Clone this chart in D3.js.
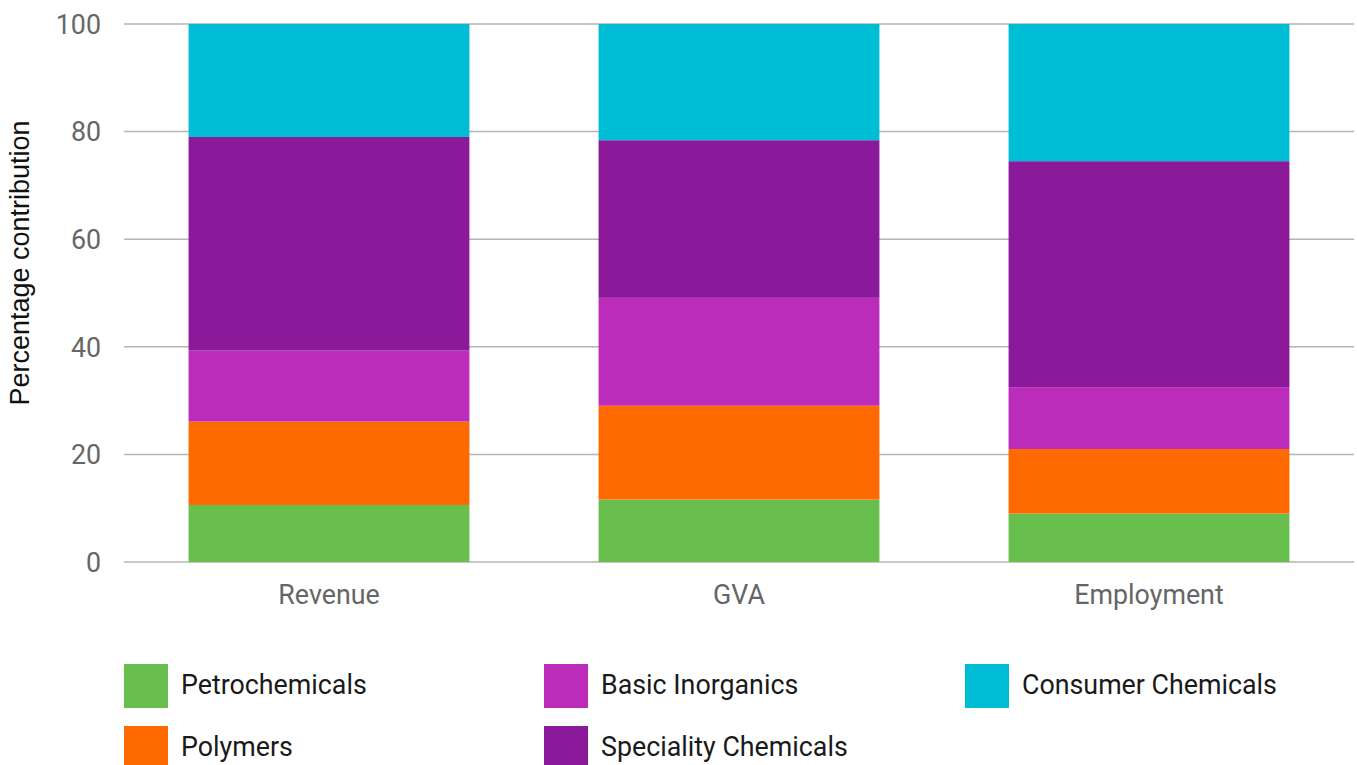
<!DOCTYPE html>
<html>
<head>
<meta charset="utf-8">
<script src="https://cdn.jsdelivr.net/npm/d3@7"></script>
<style>
  html, body { margin: 0; padding: 0; background: #fff; }
  svg { display: block; font-family: Roboto, "Noto Sans", sans-serif; }
</style>
</head>
<body>
<svg id="chart" width="1357" height="765"></svg>
<script>
// Measures shown on the x axis
const categories = ["Revenue", "GVA", "Employment"];

// Sub-sectors, bottom to top of each stack
const sectors = ["Petrochemicals", "Polymers", "Basic Inorganics", "Speciality Chemicals", "Consumer Chemicals"];

// Percentage contribution of each sub-sector, per measure
const petrochemicals      = [10.6, 11.6, 9.0];
const polymers            = [15.5, 17.45, 12.0];
const basicInorganics     = [13.2, 20.05, 11.5];
const specialityChemicals = [39.7, 29.3, 42.0];
const consumerChemicals   = [21.0, 21.6, 25.5];

const yTicks = [0, 20, 40, 60, 80, 100];
const colors = ["#68bf4e", "#ff6a00", "#bc2cbb", "#8a1a9a", "#00bdd6"];

const seriesValues = [petrochemicals, polymers, basicInorganics, specialityChemicals, consumerChemicals];
const rows = categories.map((c, i) => {
  const r = { category: c };
  sectors.forEach((s, j) => { r[s] = seriesValues[j][i]; });
  return r;
});

const svg = d3.select("#chart");
const margin = { left: 124, right: 3, top: 24, bottom: 203 };
const width = 1357, height = 765;

const x = d3.scaleBand()
  .domain(categories)
  .range([margin.left, width - margin.right])
  .paddingInner(0.315)
  .paddingOuter(0.1575);

const y = d3.scaleLinear()
  .domain([0, 100])
  .range([height - margin.bottom, margin.top]);

// Gridlines
svg.append("g")
  .selectAll("line")
  .data(yTicks)
  .join("line")
  .attr("x1", margin.left)
  .attr("x2", width - margin.right)
  .attr("y1", d => y(d))
  .attr("y2", d => y(d))
  .attr("stroke", "#b5b5b5")
  .attr("stroke-width", 1.5);

// Y tick labels
const yAxis = d3.axisLeft(y).tickValues(yTicks).tickSize(0).tickPadding(0);
const gy = svg.append("g")
  .attr("transform", `translate(${margin.left - 23},0)`)
  .call(yAxis);
gy.select(".domain").remove();
gy.selectAll("text")
  .attr("fill", "#666")
  .style("font-family", "Roboto, sans-serif")
  .style("font-size", "26.8px")
  .attr("dy", "0.35em");

// Stacked bars
const stack = d3.stack().keys(sectors);
const stacked = stack(rows);

svg.append("g")
  .selectAll("g")
  .data(stacked)
  .join("g")
  .attr("fill", (d, i) => colors[i])
  .selectAll("rect")
  .data(d => d)
  .join("rect")
  .attr("x", d => x(d.data.category))
  .attr("width", x.bandwidth())
  .attr("y", d => y(d[1]))
  .attr("height", d => y(d[0]) - y(d[1]));

// X category labels
const xAxis = d3.axisBottom(x).tickSize(0).tickPadding(0);
const gx = svg.append("g")
  .attr("transform", `translate(0,${y(0) + 33})`)
  .call(xAxis);
gx.select(".domain").remove();
gx.selectAll("text")
  .attr("fill", "#666")
  .style("font-family", "Roboto, sans-serif")
  .style("font-size", "26.8px")
  .attr("dy", "0.35em");

// Y axis title
svg.append("text")
  .attr("transform", "translate(29,263) rotate(-90)")
  .attr("text-anchor", "middle")
  .attr("fill", "#111")
  .style("font-family", "'Liberation Sans', Arial, sans-serif")
  .style("font-size", "27px")
  .text("Percentage contribution");

// Legend (column-major, two rows)
const legendCols = [124, 544, 965];
const legendRows = [664, 726];
const legend = svg.append("g")
  .selectAll("g")
  .data(sectors)
  .join("g")
  .attr("transform", (d, i) => `translate(${legendCols[Math.floor(i / 2)]},${legendRows[i % 2]})`);

legend.append("rect")
  .attr("width", 44)
  .attr("height", 44)
  .attr("fill", (d, i) => colors[i]);

legend.append("text")
  .attr("x", 57)
  .attr("y", 21)
  .attr("dy", "0.35em")
  .attr("fill", "#1a1a1a")
  .style("font-size", "26.8px")
  .text(d => d);
</script>
</body>
</html>
